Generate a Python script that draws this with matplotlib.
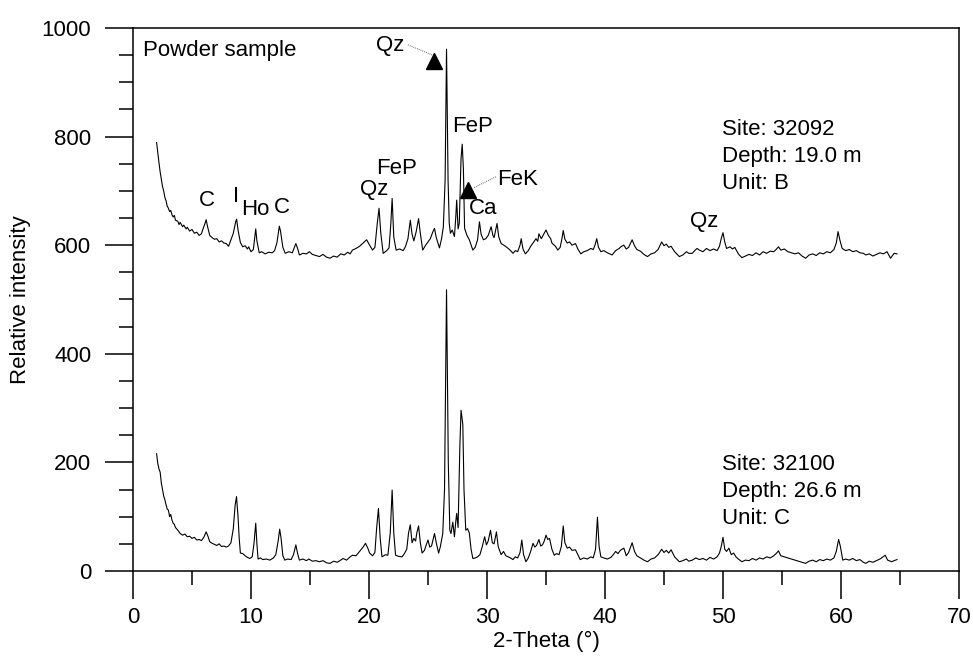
import numpy as np
import matplotlib
matplotlib.use('Agg')
import matplotlib.pyplot as plt
from matplotlib.ticker import MultipleLocator

plt.rcParams['font.family'] = ['Liberation Sans', 'DejaVu Sans']

# XRD pattern, site 32092 (depth 19.0 m, unit B): (2-theta, intensity)
pattern_32092 = [
    (2.0, 789), (2.1, 770), (2.2, 752), (2.3, 735), (2.4, 722), (2.5, 708), (2.6, 700),
    (2.7, 688), (2.8, 682), (2.9, 672), (3.0, 668), (3.1, 662), (3.2, 664), (3.3, 656),
    (3.4, 652), (3.5, 655), (3.6, 646), (3.8, 644), (3.9, 638), (4.0, 642), (4.2, 634),
    (4.3, 637), (4.5, 630), (4.6, 633), (4.8, 626), (5.0, 629), (5.2, 622), (5.4, 624),
    (5.6, 618), (5.8, 621), (5.9, 628), (6.1, 640), (6.2, 647), (6.3, 636), (6.5, 618),
    (6.7, 614), (6.9, 611), (7.1, 612), (7.3, 606), (7.5, 608), (7.7, 604), (7.9, 603),
    (8.1, 598), (8.3, 610), (8.5, 622), (8.7, 643), (8.78, 648), (8.9, 628), (9.1, 605),
    (9.3, 597), (9.5, 599), (9.7, 593), (9.8, 597), (10.0, 588), (10.2, 592), (10.4, 630),
    (10.5, 608), (10.7, 586), (10.9, 588), (11.2, 584), (11.5, 587), (11.8, 586), (12.0, 590),
    (12.2, 605), (12.4, 635), (12.5, 626), (12.7, 596), (12.9, 585), (13.2, 588), (13.5, 586),
    (13.8, 603), (13.95, 594), (14.1, 582), (14.4, 585), (14.7, 584), (14.95, 588), (15.2, 583),
    (15.5, 581), (15.8, 579), (16.1, 583), (16.4, 578), (16.7, 576), (17.0, 580), (17.3, 578),
    (17.6, 584), (17.9, 582), (18.2, 587), (18.4, 584), (18.6, 591), (18.9, 594), (19.2, 598),
    (19.5, 604), (19.8, 610), (20.0, 602), (20.3, 591), (20.5, 596), (20.7, 640), (20.85, 668),
    (21.0, 622), (21.2, 585), (21.5, 590), (21.7, 595), (21.85, 640), (21.96, 686), (22.1, 615),
    (22.3, 591), (22.6, 593), (22.9, 590), (23.1, 598), (23.3, 612), (23.5, 646), (23.65, 620),
    (23.8, 608), (24.0, 625), (24.2, 649), (24.35, 622), (24.55, 591), (24.8, 600), (25.0, 606),
    (25.2, 612), (25.4, 624), (25.55, 631), (25.7, 614), (25.97, 595), (26.15, 612), (26.3, 634),
    (26.45, 720), (26.57, 961), (26.7, 720), (26.8, 640), (26.9, 622), (27.05, 628), (27.24, 616),
    (27.35, 650), (27.43, 683), (27.55, 630), (27.65, 640), (27.8, 760), (27.9, 786), (28.0, 740),
    (28.1, 631), (28.3, 618), (28.5, 610), (28.8, 591), (29.0, 596), (29.2, 610), (29.36, 643),
    (29.5, 620), (29.7, 610), (29.9, 612), (30.1, 618), (30.35, 634), (30.5, 618), (30.6, 614),
    (30.85, 640), (31.0, 615), (31.2, 603), (31.5, 599), (31.8, 594), (32.0, 590), (32.2, 585),
    (32.4, 590), (32.6, 588), (32.8, 600), (32.9, 612), (33.05, 593), (33.25, 584), (33.5, 590),
    (33.7, 598), (33.9, 604), (34.15, 612), (34.3, 607), (34.4, 621), (34.6, 612), (34.8, 620),
    (35.0, 628), (35.2, 618), (35.4, 612), (35.5, 604), (35.8, 598), (36.0, 591), (36.2, 596),
    (36.35, 612), (36.46, 627), (36.6, 611), (36.8, 604), (37.0, 606), (37.2, 600), (37.5, 603),
    (37.7, 593), (37.95, 584), (38.2, 588), (38.5, 590), (38.8, 594), (39.0, 592), (39.15, 600),
    (39.3, 612), (39.45, 596), (39.65, 588), (39.9, 590), (40.2, 586), (40.6, 582), (40.9, 590),
    (41.2, 594), (41.4, 598), (41.6, 600), (41.8, 593), (42.0, 596), (42.3, 610), (42.5, 599),
    (42.7, 592), (43.0, 589), (43.3, 583), (43.6, 579), (43.9, 584), (44.2, 586), (44.5, 592),
    (44.8, 606), (45.0, 599), (45.2, 602), (45.4, 596), (45.6, 598), (45.9, 588), (46.3, 579),
    (46.6, 582), (46.9, 588), (47.1, 585), (47.4, 585), (47.6, 590), (47.8, 594), (48.0, 591),
    (48.3, 588), (48.6, 594), (48.9, 590), (49.2, 593), (49.5, 590), (49.7, 598), (49.85, 612),
    (50.0, 623), (50.15, 606), (50.3, 594), (50.6, 597), (50.8, 593), (51.0, 596), (51.3, 584),
    (51.6, 577), (51.9, 580), (52.2, 583), (52.5, 581), (52.8, 586), (53.1, 582), (53.4, 588),
    (53.7, 585), (54.0, 589), (54.3, 588), (54.5, 592), (54.7, 597), (54.9, 591), (55.2, 593),
    (55.5, 588), (55.8, 586), (56.1, 584), (56.4, 586), (56.7, 580), (57.0, 576), (57.3, 582),
    (57.6, 584), (57.9, 581), (58.2, 586), (58.5, 584), (58.8, 588), (59.1, 586), (59.4, 592),
    (59.6, 604), (59.75, 625), (59.9, 610), (60.1, 594), (60.4, 590), (60.7, 592), (61.0, 588),
    (61.3, 590), (61.6, 586), (61.9, 585), (62.1, 582), (62.4, 584), (62.7, 580), (63.0, 583),
    (63.3, 586), (63.6, 584), (63.9, 588), (64.2, 576), (64.5, 585), (64.75, 584),
]

# XRD pattern, site 32100 (depth 26.6 m, unit C)
pattern_32100 = [
    (2.0, 216), (2.1, 198), (2.2, 188), (2.3, 182), (2.4, 162), (2.5, 150), (2.6, 138),
    (2.7, 131), (2.8, 122), (2.9, 114), (3.0, 112), (3.1, 100), (3.2, 104), (3.3, 94),
    (3.4, 88), (3.5, 86), (3.6, 80), (3.8, 75), (3.9, 72), (4.0, 69), (4.2, 66), (4.4, 68),
    (4.6, 63), (4.8, 64), (5.0, 60), (5.2, 62), (5.4, 57), (5.6, 58), (5.8, 56), (6.0, 62),
    (6.2, 72), (6.35, 64), (6.5, 54), (6.7, 51), (6.9, 49), (7.1, 47), (7.3, 50), (7.5, 45),
    (7.7, 46), (7.9, 44), (8.1, 46), (8.3, 52), (8.5, 78), (8.65, 120), (8.77, 137), (8.9, 100),
    (9.0, 60), (9.1, 33), (9.3, 32), (9.5, 28), (9.7, 25), (9.9, 23), (10.1, 26), (10.25, 50),
    (10.4, 88), (10.5, 50), (10.6, 22), (10.8, 24), (11.0, 21), (11.3, 22), (11.6, 20),
    (11.9, 24), (12.1, 30), (12.3, 55), (12.43, 77), (12.55, 60), (12.7, 28), (12.86, 20),
    (13.1, 22), (13.4, 21), (13.6, 30), (13.8, 48), (13.95, 32), (14.1, 20), (14.4, 22),
    (14.7, 19), (14.9, 22), (15.2, 18), (15.5, 19), (15.8, 17), (16.1, 19), (16.4, 15),
    (16.7, 14), (17.0, 18), (17.3, 16), (17.6, 20), (17.8, 23), (18.1, 20), (18.4, 26),
    (18.6, 29), (18.9, 28), (19.2, 36), (19.5, 44), (19.7, 51), (19.9, 42), (20.05, 33),
    (20.3, 28), (20.5, 34), (20.65, 80), (20.8, 115), (20.95, 60), (21.1, 26), (21.4, 30),
    (21.6, 29), (21.8, 70), (21.96, 149), (22.1, 70), (22.25, 29), (22.5, 27), (22.8, 26),
    (23.0, 32), (23.2, 40), (23.35, 70), (23.5, 85), (23.65, 52), (23.8, 60), (23.95, 55),
    (24.05, 70), (24.2, 83), (24.35, 52), (24.5, 33), (24.7, 38), (24.85, 48), (25.0, 57),
    (25.15, 44), (25.3, 46), (25.55, 69), (25.7, 52), (25.9, 33), (26.05, 45), (26.25, 69),
    (26.4, 150), (26.57, 518), (26.72, 200), (26.85, 75), (26.95, 69), (27.1, 90), (27.24, 63),
    (27.35, 90), (27.43, 106), (27.55, 80), (27.7, 230), (27.8, 296), (27.95, 270),
    (28.05, 150), (28.2, 75), (28.35, 78), (28.5, 70), (28.65, 40), (28.8, 23), (29.0, 24),
    (29.2, 26), (29.4, 30), (29.6, 45), (29.8, 63), (29.95, 48), (30.1, 55), (30.3, 75),
    (30.45, 52), (30.6, 50), (30.8, 72), (30.95, 45), (31.05, 39), (31.2, 30), (31.4, 36),
    (31.6, 28), (31.8, 26), (32.0, 24), (32.2, 21), (32.4, 26), (32.6, 24), (32.8, 34),
    (32.95, 57), (33.1, 30), (33.3, 17), (33.5, 24), (33.7, 36), (33.9, 51), (34.05, 44),
    (34.2, 47), (34.4, 58), (34.55, 46), (34.7, 48), (34.85, 55), (35.0, 66), (35.15, 58),
    (35.3, 60), (35.5, 40), (35.7, 29), (35.9, 32), (36.1, 30), (36.3, 45), (36.46, 83),
    (36.6, 52), (36.8, 42), (37.0, 44), (37.2, 38), (37.5, 39), (37.7, 30), (37.9, 21),
    (38.2, 24), (38.5, 22), (38.8, 26), (39.0, 24), (39.2, 40), (39.36, 99), (39.5, 45),
    (39.65, 26), (39.9, 24), (40.2, 22), (40.5, 25), (40.7, 30), (40.9, 36), (41.1, 32),
    (41.3, 38), (41.6, 42), (41.8, 28), (42.0, 34), (42.3, 52), (42.5, 36), (42.7, 28),
    (43.0, 24), (43.3, 20), (43.6, 17), (43.9, 22), (44.2, 24), (44.5, 30), (44.8, 40),
    (45.0, 34), (45.2, 38), (45.4, 33), (45.6, 39), (45.9, 26), (46.3, 17), (46.6, 19),
    (46.9, 22), (47.1, 18), (47.4, 20), (47.7, 24), (48.0, 21), (48.3, 23), (48.6, 20),
    (48.9, 25), (49.2, 22), (49.5, 26), (49.7, 33), (49.85, 45), (50.0, 62), (50.15, 40),
    (50.3, 36), (50.5, 42), (50.7, 30), (50.9, 33), (51.1, 26), (51.3, 22), (51.6, 17),
    (51.9, 20), (52.2, 19), (52.5, 23), (52.8, 20), (53.1, 24), (53.4, 22), (53.7, 26),
    (54.0, 24), (54.3, 28), (54.5, 32), (54.7, 37), (54.9, 28), (55.2, 26), (55.5, 24),
    (55.8, 22), (56.1, 20), (56.4, 18), (56.7, 16), (57.0, 14), (57.3, 18), (57.6, 20),
    (57.9, 17), (58.2, 21), (58.5, 19), (58.8, 22), (59.1, 20), (59.4, 24), (59.6, 36),
    (59.8, 58), (59.95, 45), (60.15, 20), (60.4, 22), (60.7, 20), (61.0, 23), (61.3, 19),
    (61.6, 21), (61.9, 16), (62.1, 14), (62.4, 18), (62.7, 16), (63.0, 19), (63.3, 22),
    (63.5, 25), (63.75, 29), (63.95, 20), (64.3, 17), (64.5, 19), (64.75, 21),
]

# phase labels on the upper pattern: (text, 2-theta, intensity)
phase_labels = [
    ('C', 6.3, 683), ('I', 8.7, 689), ('Ho', 10.4, 665), ('C', 12.6, 670),
    ('Qz', 20.4, 702), ('FeP', 22.3, 742), ('FeP', 28.8, 818), ('Ca', 29.7, 668),
    ('Qz', 48.4, 643),
]

# labels with a leader line and a triangle marker
arrow_labels = [
    # text, text pos, line start, line end, marker pos
    ('Qz', (21.8, 967), (23.3, 969), (25.5, 949), (25.55, 940)),
    ('FeK', (30.9, 721), (30.75, 726), (28.9, 706), (28.43, 701)),
]

site_notes = [
    ('Site: 32092\nDepth: 19.0 m\nUnit: B', 49.9, 833),
    ('Site: 32100\nDepth: 26.6 m\nUnit: C', 49.9, 216),
]

fig = plt.figure(figsize=(9.73, 6.62), dpi=100)
ax = fig.add_axes([0.1367, 0.1375, 0.8489, 0.8202])

for pattern in (pattern_32092, pattern_32100):
    arr = np.array(pattern)
    ax.plot(arr[:, 0], arr[:, 1], color='black', lw=0.8)

fs = 16
for txt, x, y in phase_labels:
    ax.text(x, y, txt, fontsize=fs, ha='center', va='center')

for txt, tpos, p0, p1, mpos in arrow_labels:
    ha = 'center' if txt == 'Qz' else 'left'
    ax.text(tpos[0], tpos[1], txt, fontsize=fs, ha=ha, va='center')
    ax.plot([p0[0], p1[0]], [p0[1], p1[1]], color='#666666', lw=0.7, ls=(0, (1, 1)))
    ax.plot(mpos[0], mpos[1], marker='^', color='black', markersize=11)

for txt, x, y in site_notes:
    ax.text(x, y, txt, fontsize=fs, ha='left', va='top', linespacing=1.4)

ax.text(0.85, 959, 'Powder sample', fontsize=fs, ha='left', va='center')

ax.set_xlim(0, 70)
ax.set_ylim(0, 1000)
ax.xaxis.set_major_locator(MultipleLocator(10))
ax.xaxis.set_minor_locator(MultipleLocator(5))
ax.yaxis.set_major_locator(MultipleLocator(200))
ax.yaxis.set_minor_locator(MultipleLocator(50))
ax.tick_params(which='major', direction='out', length=20, width=1.1, labelsize=fs)
ax.tick_params(which='minor', direction='out', length=10, width=1.1)
ax.tick_params(axis='y', which='major', pad=10)
ax.tick_params(axis='x', which='major', pad=6)
for sp in ax.spines.values():
    sp.set_linewidth(1.1)

ax.set_xlabel('2-Theta (°)', fontsize=fs, labelpad=2)
ax.set_ylabel('Relative intensity', fontsize=fs, labelpad=8)

fig.savefig('out.png', dpi=100)
